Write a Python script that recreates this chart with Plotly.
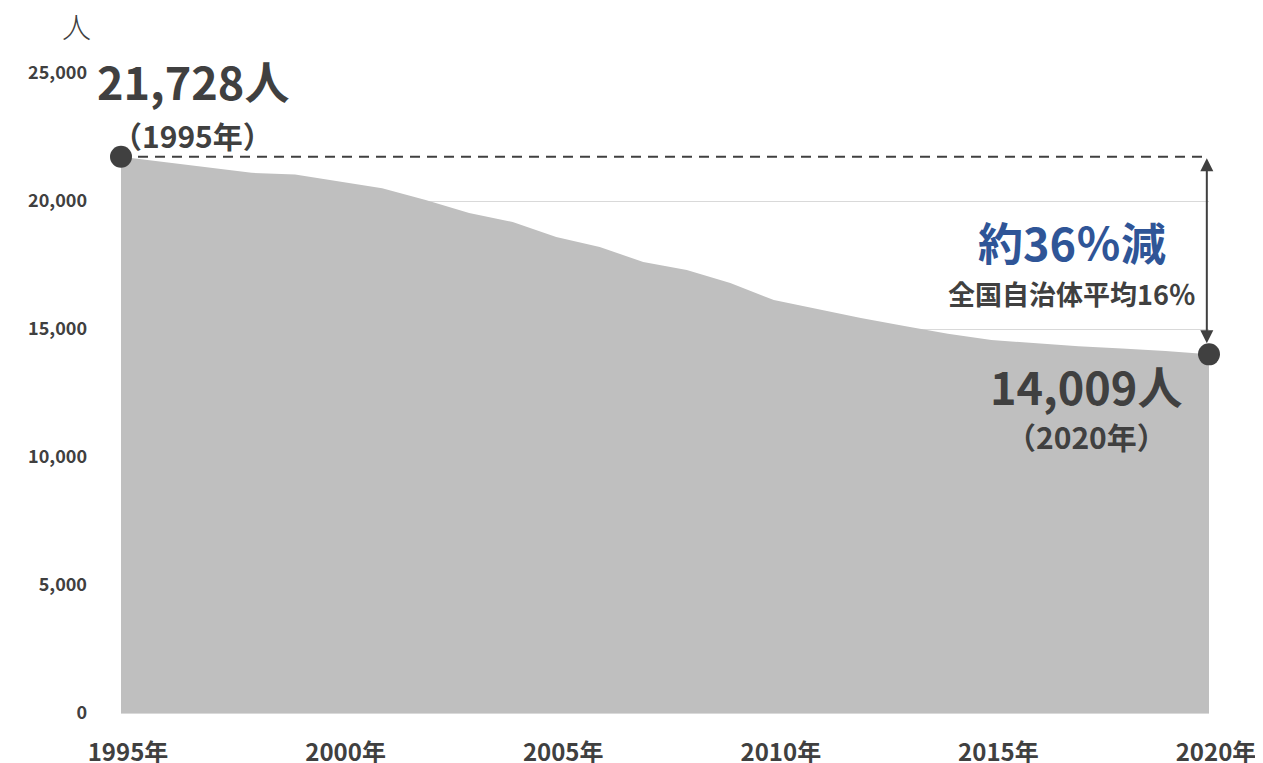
import plotly.graph_objects as go

years = list(range(1995, 2021))
population = [21728, 21520, 21310, 21100, 21040, 20760, 20500, 20040, 19530, 19180,
              18590, 18200, 17620, 17300, 16800, 16130, 15780, 15430, 15120, 14810,
              14570, 14450, 14330, 14240, 14140, 14009]
y_ticks = [0, 5000, 10000, 15000, 20000, 25000]
y_tick_text = ["0", "5,000", "10,000", "15,000", "20,000", "25,000"]
x_ticks = [1995, 2000, 2005, 2010, 2015, 2020]
x_tick_text = ["1995年", "2000年", "2005年", "2010年", "2015年", "2020年"]

FONT = "Noto Sans CJK JP"
DARK = "#404040"
BLUE = "#2f5597"

start_val = population[0]
end_val = population[-1]

fig = go.Figure()
fig.add_trace(go.Scatter(
    x=years, y=population, mode="lines", fill="tozeroy",
    fillcolor="#bfbfbf", line=dict(width=0, color="#bfbfbf"),
    hoverinfo="skip", showlegend=False))

# dashed reference line at the 1995 level
fig.add_trace(go.Scatter(
    x=[years[0], years[-1]], y=[start_val, start_val], mode="lines",
    line=dict(color=DARK, width=2, dash="10px,7px"), hoverinfo="skip",
    showlegend=False, cliponaxis=False))

# end-point markers
fig.add_trace(go.Scatter(
    x=[years[0], years[-1]], y=[start_val, end_val], mode="markers",
    marker=dict(color=DARK, size=22), hoverinfo="skip", showlegend=False,
    cliponaxis=False))

annotations = [
    dict(x=years[-1] - 0.05, y=end_val, ax=years[-1] - 0.05, ay=start_val,
         xref="x", yref="y", axref="x", ayref="y", text="", showarrow=True,
         arrowhead=2, startarrowhead=2, arrowside="end+start", arrowsize=1.3,
         arrowwidth=2, arrowcolor=DARK, standoff=11, startstandoff=0),
    dict(x=1996.65, y=24690, xref="x", yref="y", text="<b>21,728人</b>",
         showarrow=False, font=dict(family=FONT, size=45, color=DARK)),
    dict(x=1996.65, y=22590, xref="x", yref="y", text="<b>（1995年）</b>",
         showarrow=False, font=dict(family=FONT, size=30, color=DARK)),
    dict(x=2016.85, y=18400, xref="x", yref="y", text="<b>約36％減</b>",
         showarrow=False, font=dict(family=FONT, size=45, color=BLUE)),
    dict(x=2016.85, y=16390, xref="x", yref="y", text="<b>全国自治体平均16％</b>",
         showarrow=False, font=dict(family=FONT, size=27, color=DARK)),
    dict(x=2017.18, y=12810, xref="x", yref="y", text="<b>14,009人</b>",
         showarrow=False, font=dict(family=FONT, size=45, color=DARK)),
    dict(x=2017.18, y=10820, xref="x", yref="y", text="<b>（2020年）</b>",
         showarrow=False, font=dict(family=FONT, size=30, color=DARK)),
    dict(x=-0.041, y=1.073, xref="paper", yref="paper", text="人",
         showarrow=False, xanchor="center", yanchor="middle",
         font=dict(family=FONT, size=29, color=DARK, weight=300)),
]

# the page body adds an 8px offset, so margins are set 8px smaller on left/top
fig.update_layout(
    width=1263, height=763,
    margin=dict(l=113, r=62, t=65, b=58),
    plot_bgcolor="white", paper_bgcolor="white",
    showlegend=False,
    annotations=annotations,
    xaxis=dict(range=[1995, 2020], tickvals=x_ticks, ticktext=x_tick_text,
               showgrid=False, zeroline=False, showline=True, linecolor="#d9d9d9",
               linewidth=1, ticks="", ticklabelstandoff=18, ticklabelshift=7,
               automargin=False,
               tickfont=dict(family=FONT, size=24, color=DARK, weight="bold")),
    yaxis=dict(range=[0, 25000], tickvals=y_ticks, ticktext=y_tick_text,
               showgrid=True, gridcolor="#d9d9d9", gridwidth=1, zeroline=False,
               showline=False, ticks="", ticklabelstandoff=33, automargin=False,
               tickfont=dict(family=FONT, size=18, color=DARK, weight="bold")),
)

fig.write_html("out.html")
